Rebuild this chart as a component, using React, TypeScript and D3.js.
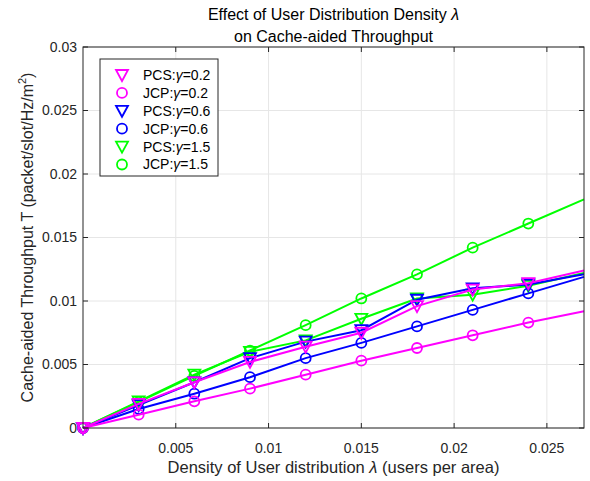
import React, { useEffect, useRef } from 'react';
import * as d3 from 'd3';

// user density lambda (users per area)
const lambda = [0, 0.003, 0.006, 0.009, 0.012, 0.015, 0.018, 0.021, 0.024, 0.027];

const pcs02 = [0, 0.0019, 0.0036, 0.0052, 0.0064, 0.0075, 0.0096, 0.0109, 0.0114, 0.0124];
const jcp02 = [0, 0.00105, 0.0021, 0.0031, 0.0042, 0.0053, 0.0063, 0.0073, 0.0083, 0.0092];
const pcs06 = [0, 0.0018, 0.0036, 0.0055, 0.0068, 0.0077, 0.0101, 0.011, 0.0113, 0.0121];
const jcp06 = [0, 0.0015, 0.0027, 0.004, 0.0055, 0.0067, 0.008, 0.0093, 0.0106, 0.0119];
const pcs15 = [0, 0.0021, 0.0042, 0.006, 0.0069, 0.0086, 0.0102, 0.0105, 0.0112, 0.0122];
const jcp15 = [0, 0.00205, 0.0041, 0.0061, 0.0081, 0.0102, 0.0121, 0.0142, 0.0161, 0.018];

const xTicks = [0.005, 0.01, 0.015, 0.02, 0.025];
const yTicks = [0, 0.005, 0.01, 0.015, 0.02, 0.025, 0.03];

const seriesNames = ['PCS:γ=0.2', 'JCP:γ=0.2', 'PCS:γ=0.6', 'JCP:γ=0.6', 'PCS:γ=1.5', 'JCP:γ=1.5'];
const seriesValues = [pcs02, jcp02, pcs06, jcp06, pcs15, jcp15];
const seriesColors = ['#ff00ff', '#ff00ff', '#0000ff', '#0000ff', '#00ff00', '#00ff00'];
const seriesMarkers = ['tri', 'circle', 'tri', 'circle', 'tri', 'circle'];

const FONT = '"Liberation Sans", Arial, Helvetica, sans-serif';
const AXIS = '#262626';

function marker(g: any, kind: string, cx: number, cy: number, color: string) {
  if (kind === 'circle') {
    g.append('circle').attr('cx', cx).attr('cy', cy).attr('r', 5)
      .attr('fill', 'none').attr('stroke', color).attr('stroke-width', 1.8);
  } else {
    g.append('path')
      .attr('d', `M${cx - 6},${cy - 5}L${cx + 6},${cy - 5}L${cx},${cy + 6}Z`)
      .attr('fill', 'none').attr('stroke', color).attr('stroke-width', 1.8)
      .attr('stroke-linejoin', 'miter');
  }
}

export default function App() {
  const ref = useRef<SVGSVGElement>(null);

  useEffect(() => {
    const svg = d3.select(ref.current);
    svg.selectAll('*').remove();

    const left = 83, right = 584, top = 47, bottom = 428;
    const x = d3.scaleLinear().domain([0, 0.027]).range([left, right]);
    const y = d3.scaleLinear().domain([0, 0.03]).range([bottom, top]);

    svg.append('rect').attr('width', 590).attr('height', 481).attr('fill', '#fff');

    // grid
    const grid = svg.append('g').attr('stroke', '#e6e6e6').attr('stroke-width', 1);
    xTicks.forEach(t => {
      grid.append('line').attr('x1', x(t)).attr('x2', x(t)).attr('y1', top).attr('y2', bottom);
    });
    yTicks.forEach(t => {
      grid.append('line').attr('x1', left).attr('x2', right).attr('y1', y(t)).attr('y2', y(t));
    });

    // series, drawn from last to first so magenta sits on top
    const line = d3.line<number>()
      .x((d, i) => x(lambda[i]))
      .y(d => y(d));
    const plot = svg.append('g');
    for (let s = seriesValues.length - 1; s >= 0; s--) {
      const vals = seriesValues[s];
      plot.append('path').datum(vals)
        .attr('d', line)
        .attr('fill', 'none')
        .attr('stroke', seriesColors[s])
        .attr('stroke-width', 2);
      vals.forEach((v, i) => {
        if (i < vals.length - 1) marker(plot, seriesMarkers[s], x(lambda[i]), y(v), seriesColors[s]);
      });
    }

    // axes box and ticks
    const ax = svg.append('g').attr('stroke', AXIS).attr('stroke-width', 1).attr('fill', 'none');
    ax.append('rect').attr('x', left).attr('y', top)
      .attr('width', right - left).attr('height', bottom - top);
    xTicks.forEach(t => {
      ax.append('line').attr('x1', x(t)).attr('x2', x(t)).attr('y1', bottom).attr('y2', bottom - 5);
      ax.append('line').attr('x1', x(t)).attr('x2', x(t)).attr('y1', top).attr('y2', top + 5);
    });
    yTicks.forEach(t => {
      ax.append('line').attr('x1', left).attr('x2', left + 5).attr('y1', y(t)).attr('y2', y(t));
      ax.append('line').attr('x1', right).attr('x2', right - 5).attr('y1', y(t)).attr('y2', y(t));
    });

    const txt = svg.append('g').attr('font-family', FONT).attr('fill', AXIS);
    xTicks.forEach(t => {
      txt.append('text').attr('x', x(t)).attr('y', 453)
        .attr('text-anchor', 'middle').attr('font-size', 14).text(String(t));
    });
    yTicks.forEach(t => {
      txt.append('text').attr('x', left - 6).attr('y', y(t)).attr('dy', '0.35em')
        .attr('text-anchor', 'end').attr('font-size', 14).text(String(t));
    });

    // labels
    const xl = txt.append('text').attr('x', (left + right) / 2).attr('y', 473)
      .attr('text-anchor', 'middle').attr('font-size', 16.5);
    xl.append('tspan').text('Density of User distribution ');
    xl.append('tspan').attr('font-style', 'italic').text('λ');
    xl.append('tspan').text(' (users per area)');

    const yl = txt.append('text')
      .attr('transform', `translate(33,${(top + bottom) / 2}) rotate(-90)`)
      .attr('text-anchor', 'middle').attr('font-size', 16);
    yl.append('tspan').text('Cache-aided Throughput T (packet/slot/Hz/m');
    yl.append('tspan').attr('font-size', 11).attr('dy', -7).text('2');
    yl.append('tspan').attr('dy', 7).text(')');

    const t1 = txt.append('text').attr('x', (left + right) / 2).attr('y', 20)
      .attr('text-anchor', 'middle').attr('font-size', 16).attr('fill', '#000');
    t1.append('tspan').text('Effect of User Distribution Density ');
    t1.append('tspan').attr('font-style', 'italic').text('λ');
    txt.append('text').attr('x', (left + right) / 2).attr('y', 42)
      .attr('text-anchor', 'middle').attr('font-size', 16).attr('fill', '#000')
      .text('on Cache-aided Throughput');

    // legend
    const lg = svg.append('g');
    lg.append('rect').attr('x', 100).attr('y', 59).attr('width', 118).attr('height', 117)
      .attr('fill', '#fff').attr('stroke', AXIS).attr('stroke-width', 1);
    seriesNames.forEach((name, i) => {
      const ry = 75 + i * 17.9;
      marker(lg, seriesMarkers[i], 122, ry, seriesColors[i]);
      const tt = lg.append('text').attr('x', 143).attr('y', ry).attr('dy', '0.35em')
        .attr('font-family', FONT).attr('font-size', 14).attr('fill', '#000');
      const [pre, post] = name.split('γ');
      tt.append('tspan').text(pre);
      tt.append('tspan').attr('font-style', 'italic').text('γ');
      tt.append('tspan').text(post);
    });
  }, []);

  return (
    <svg ref={ref} width={590} height={481}
      style={{ position: 'absolute', left: 0, top: 0 }} />
  );
}
